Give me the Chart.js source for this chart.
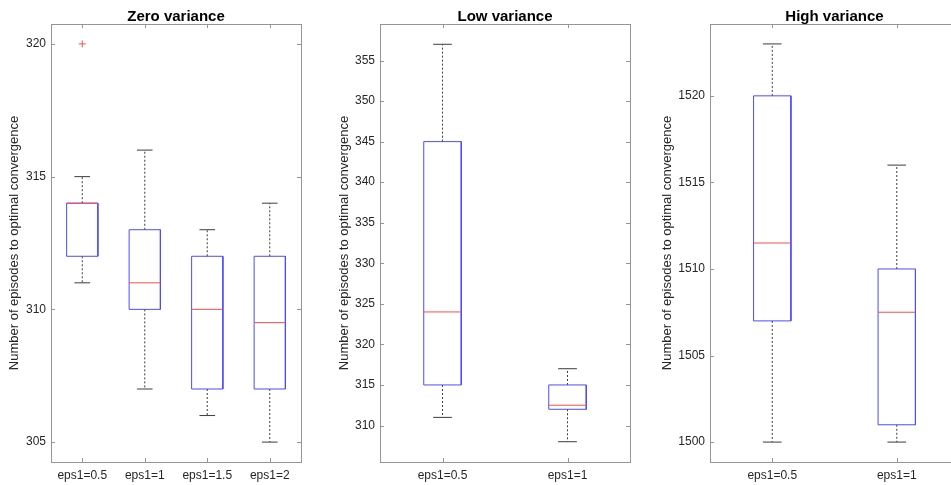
<!DOCTYPE html>
<html>
<head>
<meta charset="utf-8">
<script src="https://cdn.jsdelivr.net/npm/chart.js@4.4.0/dist/chart.umd.min.js"></script>
<style>
  html, body { margin: 0; padding: 0; background: #fff; overflow: hidden; width: 951px; height: 485px; }
  canvas { position: absolute; top: 0; }
</style>
</head>
<body>
<canvas id="zeroChart" width="320" height="485" style="left:0px"></canvas>
<canvas id="lowChart" width="320" height="485" style="left:320px"></canvas>
<canvas id="highChart" width="330" height="485" style="left:640px"></canvas>
<script>
// Zero variance
const zeroCats = ['eps1=0.5', 'eps1=1', 'eps1=1.5', 'eps1=2'];
const zeroLow = [311, 307, 306, 305];
const zeroQ1 = [312, 310, 307, 307];
const zeroMedian = [314, 311, 310, 309.5];
const zeroQ3 = [314, 313, 312, 312];
const zeroHigh = [315, 316, 313, 314];
const zeroOutliers = [[320], [], [], []];
const zeroTicks = [305, 310, 315, 320];

// Low variance
const lowCats = ['eps1=0.5', 'eps1=1'];
const lowLow = [311, 308];
const lowQ1 = [315, 312];
const lowMedian = [324, 312.5];
const lowQ3 = [345, 315];
const lowHigh = [357, 317];
const lowOutliers = [[], []];
const lowTicks = [310, 315, 320, 325, 330, 335, 340, 345, 350, 355];

// High variance
const highCats = ['eps1=0.5', 'eps1=1'];
const highLow = [1500, 1500];
const highQ1 = [1507, 1501];
const highMedian = [1511.5, 1507.5];
const highQ3 = [1520, 1510];
const highHigh = [1523, 1516];
const highOutliers = [[], []];
const highTicks = [1500, 1505, 1510, 1515, 1520];

const yLabel = 'Number of episodes to optimal convergence';

// Colors and fonts
const FONT = '"Liberation Sans", Arial, Helvetica, sans-serif';
const INK = '#262626';
const BOX = '#4b4bff';
const MEDIAN = '#ff4b4b';
const WHISKER = '#3c3c3c';
const FRAME = '#959595';

// Build line datasets for every box, median, whisker and cap
function boxDatasets(cats, low, q1, med, q3, high, outliers, boxWidth) {
  const sets = [];
  // lower order is drawn on top
  const line = (pts, color, order, dash) => {
    sets.push({
      data: pts,
      showLine: true,
      borderColor: color,
      borderWidth: 1,
      borderDash: dash || [],
      pointRadius: 0,
      fill: false,
      order: order
    });
  };

  cats.forEach((c, i) => {
    const x = i + 1;
    const h = boxWidth / 2;
    const cap = boxWidth / 4;
    line([
      { x: x - h, y: q1[i] }, { x: x - h, y: q3[i] },
      { x: x + h, y: q3[i] }, { x: x + h, y: q1[i] },
      { x: x - h, y: q1[i] }
    ], BOX, 1);
    line([{ x: x - h, y: med[i] }, { x: x + h, y: med[i] }], MEDIAN, 0);
    line([{ x: x, y: q3[i] }, { x: x, y: high[i] }], WHISKER, 2, [2, 2]);
    line([{ x: x, y: q1[i] }, { x: x, y: low[i] }], WHISKER, 2, [2, 2]);
    line([{ x: x - cap, y: high[i] }, { x: x + cap, y: high[i] }], WHISKER, 2);
    line([{ x: x - cap, y: low[i] }, { x: x + cap, y: low[i] }], WHISKER, 2);
  });

  // Outliers as red crosses
  const outPts = [];
  outliers.forEach((list, i) => list.forEach(v => outPts.push({ x: i + 1, y: v })));
  sets.push({
    data: outPts,
    showLine: false,
    pointStyle: 'cross',
    pointRadius: 3.5,
    borderColor: MEDIAN,
    borderWidth: 1,
    backgroundColor: MEDIAN,
    order: 0
  });
  return sets;
}

// Axes box with inward ticks on all four sides, plus the panel title
const axesFrame = {
  id: 'axesFrame',
  afterDraw(chart, args, opts) {
    const { ctx, chartArea: a, scales: { x, y } } = chart;
    const tl = 4;
    ctx.save();
    ctx.strokeStyle = FRAME;
    ctx.lineWidth = 1;
    ctx.strokeRect(Math.round(a.left) + 0.5, Math.round(a.top) + 0.5,
      Math.round(a.right - a.left), Math.round(a.bottom - a.top));
    ctx.beginPath();
    x.ticks.forEach(t => {
      const px = Math.round(x.getPixelForValue(t.value)) + 0.5;
      ctx.moveTo(px, a.bottom); ctx.lineTo(px, a.bottom - tl);
      ctx.moveTo(px, a.top); ctx.lineTo(px, a.top + tl);
    });
    y.ticks.forEach(t => {
      const py = Math.round(y.getPixelForValue(t.value)) + 0.5;
      ctx.moveTo(a.left, py); ctx.lineTo(a.left + tl, py);
      ctx.moveTo(a.right, py); ctx.lineTo(a.right - tl, py);
    });
    ctx.stroke();

    ctx.fillStyle = '#000';
    ctx.font = 'bold 15px ' + FONT;
    ctx.textAlign = 'center';
    ctx.textBaseline = 'alphabetic';
    ctx.fillText(opts.title, (a.left + a.right) / 2, a.top - 3);
    ctx.restore();
  }
};

function makeBoxChart(canvasId, panel) {
  const n = panel.cats.length;
  return new Chart(document.getElementById(canvasId), {
    type: 'scatter',
    data: {
      datasets: boxDatasets(panel.cats, panel.low, panel.q1, panel.median,
        panel.q3, panel.high, panel.outliers, panel.boxWidth)
    },
    options: {
      responsive: false,
      animation: false,
      events: [],
      layout: { padding: { top: 24, right: panel.padRight, bottom: 0, left: 0 } },
      plugins: {
        legend: { display: false },
        tooltip: { enabled: false },
        axesFrame: { title: panel.title }
      },
      scales: {
        x: {
          type: 'linear',
          min: 0.5,
          max: n + 0.5,
          grid: { display: false, drawTicks: false },
          border: { display: false },
          afterBuildTicks: s => { s.ticks = panel.cats.map((c, i) => ({ value: i + 1 })); },
          afterFit: s => { s.height = 23; },
          ticks: {
            autoSkip: false,
            maxRotation: 0,
            padding: 6,
            color: INK,
            font: { family: FONT, size: 12 },
            callback: v => panel.cats[Math.round(v) - 1]
          }
        },
        y: {
          min: panel.yMin,
          max: panel.yMax,
          grid: { display: false, drawTicks: false },
          border: { display: false },
          afterBuildTicks: s => { s.ticks = panel.ticks.map(v => ({ value: v })); },
          afterFit: s => { s.width = panel.yAxisWidth; },
          ticks: {
            padding: 5,
            color: INK,
            font: { family: FONT, size: 12 },
            callback: v => String(v)
          },
          title: {
            display: true,
            text: yLabel,
            color: INK,
            font: { family: FONT, size: 13 },
            padding: { top: panel.labelPad, bottom: 0 }
          }
        }
      }
    },
    plugins: [axesFrame]
  });
}

makeBoxChart('zeroChart', {
  title: 'Zero variance',
  cats: zeroCats, low: zeroLow, q1: zeroQ1, median: zeroMedian,
  q3: zeroQ3, high: zeroHigh, outliers: zeroOutliers, ticks: zeroTicks,
  yMin: 304.25, yMax: 320.75,
  boxWidth: 0.5, yAxisWidth: 51, padRight: 19, labelPad: 7
});

makeBoxChart('lowChart', {
  title: 'Low variance',
  cats: lowCats, low: lowLow, q1: lowQ1, median: lowMedian,
  q3: lowQ3, high: lowHigh, outliers: lowOutliers, ticks: lowTicks,
  yMin: 305.5, yMax: 359.5,
  boxWidth: 0.3, yAxisWidth: 60, padRight: 10, labelPad: 17
});

makeBoxChart('highChart', {
  title: 'High variance',
  cats: highCats, low: highLow, q1: highQ1, median: highMedian,
  q3: highQ3, high: highHigh, outliers: highOutliers, ticks: highTicks,
  yMin: 1498.85, yMax: 1524.15,
  boxWidth: 0.3, yAxisWidth: 70, padRight: 11, labelPad: 20
});
</script>
</body>
</html>
